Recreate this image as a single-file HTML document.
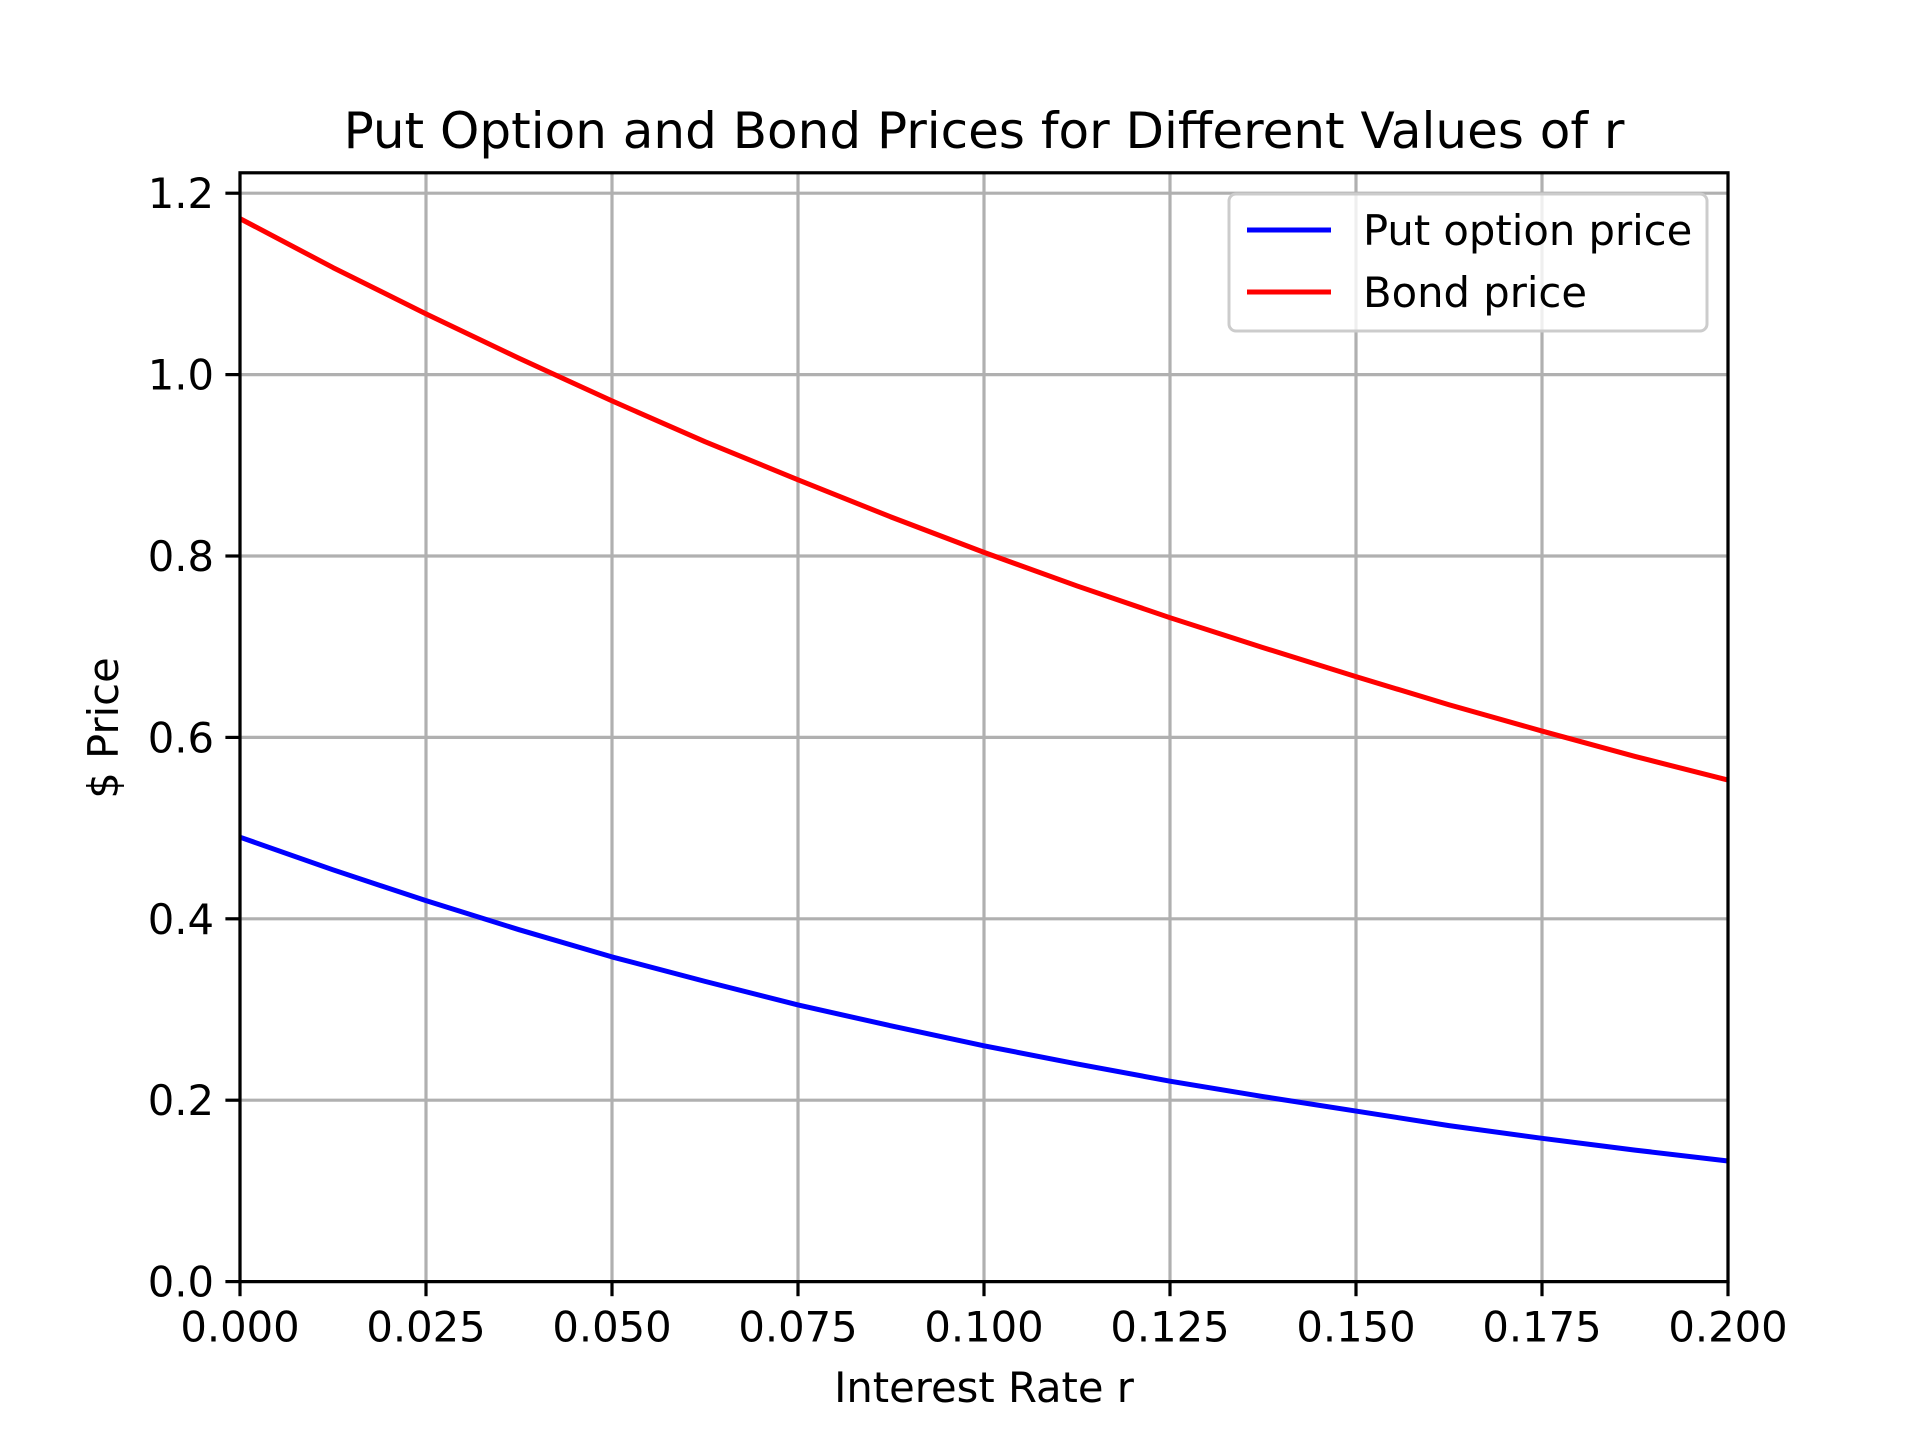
<!DOCTYPE html>
<html><head><meta charset="utf-8"><style>html,body{margin:0;padding:0;background:#fff}svg{display:block}</style></head>
<body>
<svg id="chart" width="1920" height="1440" viewBox="0 0 1920 1440" xmlns="http://www.w3.org/2000/svg" font-family="DejaVu Sans, Liberation Sans, sans-serif">
<rect width="1920" height="1440" fill="#fff"/>
<text x="984" y="148" font-size="50" text-anchor="middle">Put Option and Bond Prices for Different Values of r</text>
<g id="grid"></g>
<g id="series"></g>
<rect x="240" y="172.8" width="1488" height="1108.8" fill="none" stroke="#000" stroke-width="3.2"/>
<g id="ticks"></g>
<text x="984" y="1402" font-size="41.7" text-anchor="middle">Interest Rate r</text>
<text transform="translate(118,728) rotate(-90)" font-size="41.7" text-anchor="middle">$ Price</text>
<g>
<rect x="1229" y="194" width="478" height="137" rx="7" fill="#fff" fill-opacity="0.8" stroke="#ccc" stroke-width="3"/>
<line x1="1247" y1="230" x2="1331" y2="230" stroke="#0000ff" stroke-width="5"/>
<text x="1363" y="245" font-size="41.7">Put option price</text>
<line x1="1247" y1="292" x2="1331" y2="292" stroke="#ff0000" stroke-width="5"/>
<text x="1363" y="307" font-size="41.7">Bond price</text>
</g>
</svg>
<script>
const rates=[0,0.0125,0.025,0.0375,0.05,0.0625,0.075,0.0875,0.1,0.1125,0.125,0.1375,0.15,0.1625,0.175,0.1875,0.2];
const putPrices=[0.49,0.454,0.42,0.388,0.358,0.331,0.305,0.282,0.26,0.240,0.221,0.204,0.188,0.172,0.158,0.145,0.133];
const bondPrices=[1.172,1.118,1.067,1.018,0.971,0.926,0.884,0.843,0.804,0.767,0.732,0.699,0.667,0.636,0.607,0.579,0.553];
const xTicks=[0,0.025,0.05,0.075,0.1,0.125,0.15,0.175,0.2];
const xTickLabels=["0.000","0.025","0.050","0.075","0.100","0.125","0.150","0.175","0.200"];
const yTicks=[0,0.2,0.4,0.6,0.8,1.0,1.2];
const yTickLabels=["0.0","0.2","0.4","0.6","0.8","1.0","1.2"];
const L=240,R=1728,T=172.8,B=1281.6,YMAX=1.2225;
const sx=v=>L+(v-0)/(0.2)*(R-L);
const sy=v=>B-v/YMAX*(B-T);
const NS="http://www.w3.org/2000/svg";
function mk(t,a,p){const e=document.createElementNS(NS,t);for(const k in a)e.setAttribute(k,a[k]);p.appendChild(e);return e;}
const grid=document.getElementById('grid'),ticks=document.getElementById('ticks'),series=document.getElementById('series');
xTicks.forEach((v,i)=>{
 const g=mk('line',{x1:sx(v),x2:sx(v),y1:T,y2:B,stroke:'#b0b0b0','stroke-width':3.2},grid);
 
 
 const t=mk('line',{x1:sx(v),x2:sx(v),y1:B,y2:B+14.6,stroke:'#000','stroke-width':3.2},ticks);
 
 
 const l=mk('text',{x:sx(v),y:B+60,'font-size':41.7,'text-anchor':'middle'},ticks);
 l.textContent=xTickLabels[i];
 
 
});
yTicks.forEach((v,i)=>{
 const g=mk('line',{x1:L,x2:R,y1:sy(v),y2:sy(v),stroke:'#b0b0b0','stroke-width':3.2},grid);
 
 
 const t=mk('line',{x1:L-14.6,x2:L,y1:sy(v),y2:sy(v),stroke:'#000','stroke-width':3.2},ticks);
 
 
 const l=mk('text',{x:L-26,y:sy(v)+15,'font-size':41.7,'text-anchor':'end'},ticks);
 l.textContent=yTickLabels[i];
 
 
});
function line(vals,color,name){
 const p=mk('polyline',{points:rates.map((r,i)=>sx(r)+','+sy(vals[i])).join(' '),fill:'none',stroke:color,'stroke-width':5,'stroke-linejoin':'round'},series);
 
 
}
line(putPrices,'#0000ff','put-option-line');
line(bondPrices,'#ff0000','bond-price-line');
</script>
</body></html>
